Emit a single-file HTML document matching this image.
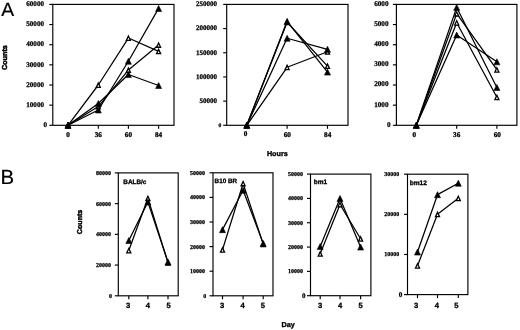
<!DOCTYPE html>
<html><head><meta charset="utf-8"><title>Figure</title>
<style>
html,body{margin:0;padding:0;background:#fff;}
body{width:520px;height:330px;overflow:hidden;font-family:"Liberation Sans",sans-serif;}
svg{display:block;filter:blur(0.3px);text-rendering:geometricPrecision;}
</style></head><body>
<svg width="520" height="330" viewBox="0 0 520 330">
<rect x="0" y="0" width="520" height="330" fill="#fff"/>
<rect x="52.8" y="4.4" width="121.2" height="120.89999999999999" fill="none" stroke="#000" stroke-width="1.15"/>
<line x1="49.3" y1="125.30" x2="52.8" y2="125.30" stroke="#000" stroke-width="1.15"/>
<text x="47.00" y="127.09" font-family="Liberation Serif" font-weight="bold" font-size="7.1" text-anchor="end" fill="#000" stroke="#000" stroke-width="0.25">0</text>
<line x1="49.3" y1="105.15" x2="52.8" y2="105.15" stroke="#000" stroke-width="1.15"/>
<text x="44.00" y="106.94" font-family="Liberation Serif" font-weight="bold" font-size="7.1" text-anchor="end" fill="#000" stroke="#000" stroke-width="0.25">10000</text>
<line x1="49.3" y1="85.00" x2="52.8" y2="85.00" stroke="#000" stroke-width="1.15"/>
<text x="44.00" y="86.79" font-family="Liberation Serif" font-weight="bold" font-size="7.1" text-anchor="end" fill="#000" stroke="#000" stroke-width="0.25">20000</text>
<line x1="49.3" y1="64.85" x2="52.8" y2="64.85" stroke="#000" stroke-width="1.15"/>
<text x="44.00" y="66.64" font-family="Liberation Serif" font-weight="bold" font-size="7.1" text-anchor="end" fill="#000" stroke="#000" stroke-width="0.25">30000</text>
<line x1="49.3" y1="44.70" x2="52.8" y2="44.70" stroke="#000" stroke-width="1.15"/>
<text x="44.00" y="46.49" font-family="Liberation Serif" font-weight="bold" font-size="7.1" text-anchor="end" fill="#000" stroke="#000" stroke-width="0.25">40000</text>
<line x1="49.3" y1="24.55" x2="52.8" y2="24.55" stroke="#000" stroke-width="1.15"/>
<text x="44.00" y="26.34" font-family="Liberation Serif" font-weight="bold" font-size="7.1" text-anchor="end" fill="#000" stroke="#000" stroke-width="0.25">50000</text>
<line x1="49.3" y1="4.40" x2="52.8" y2="4.40" stroke="#000" stroke-width="1.15"/>
<text x="44.00" y="6.19" font-family="Liberation Serif" font-weight="bold" font-size="7.1" text-anchor="end" fill="#000" stroke="#000" stroke-width="0.25">60000</text>
<line x1="68.0" y1="125.3" x2="68.0" y2="128.8" stroke="#000" stroke-width="1.15"/>
<text x="68.00" y="136.90" font-family="Liberation Serif" font-weight="bold" font-size="7.2" text-anchor="middle" fill="#000" stroke="#000" stroke-width="0.3">0</text>
<line x1="98.3" y1="125.3" x2="98.3" y2="128.8" stroke="#000" stroke-width="1.15"/>
<text x="98.30" y="136.90" font-family="Liberation Serif" font-weight="bold" font-size="7.2" text-anchor="middle" fill="#000" stroke="#000" stroke-width="0.3">36</text>
<line x1="128.4" y1="125.3" x2="128.4" y2="128.8" stroke="#000" stroke-width="1.15"/>
<text x="128.40" y="136.50" font-family="Liberation Serif" font-weight="bold" font-size="7.2" text-anchor="middle" fill="#000" stroke="#000" stroke-width="0.3">60</text>
<line x1="158.6" y1="125.3" x2="158.6" y2="128.8" stroke="#000" stroke-width="1.15"/>
<text x="158.60" y="136.50" font-family="Liberation Serif" font-weight="bold" font-size="7.2" text-anchor="middle" fill="#000" stroke="#000" stroke-width="0.3">84</text>
<polyline points="68.00,125.30 98.30,85.00 128.40,38.05 158.60,51.35" fill="none" stroke="#000" stroke-width="1.25" stroke-linejoin="round"/>
<polyline points="68.00,125.30 98.30,106.56 128.40,70.09 158.60,44.90" fill="none" stroke="#000" stroke-width="1.25" stroke-linejoin="round"/>
<polyline points="68.00,125.30 98.30,109.99 128.40,61.22 158.60,8.43" fill="none" stroke="#000" stroke-width="1.25" stroke-linejoin="round"/>
<polyline points="68.00,125.30 98.30,103.54 128.40,74.52 158.60,85.50" fill="none" stroke="#000" stroke-width="1.25" stroke-linejoin="round"/>
<polygon points="68.00,123.34 65.97,127.65 70.03,127.65" fill="#fff" stroke="#000" stroke-width="1.3" stroke-linejoin="miter"/>
<polygon points="98.30,83.04 96.27,87.35 100.33,87.35" fill="#fff" stroke="#000" stroke-width="1.3" stroke-linejoin="miter"/>
<polygon points="128.40,36.09 126.38,40.40 130.43,40.40" fill="#fff" stroke="#000" stroke-width="1.3" stroke-linejoin="miter"/>
<polygon points="158.60,49.39 156.57,53.70 160.62,53.70" fill="#fff" stroke="#000" stroke-width="1.3" stroke-linejoin="miter"/>
<polygon points="68.00,123.34 65.97,127.65 70.03,127.65" fill="#fff" stroke="#000" stroke-width="1.3" stroke-linejoin="miter"/>
<polygon points="98.30,104.60 96.27,108.91 100.33,108.91" fill="#fff" stroke="#000" stroke-width="1.3" stroke-linejoin="miter"/>
<polygon points="128.40,68.13 126.38,72.44 130.43,72.44" fill="#fff" stroke="#000" stroke-width="1.3" stroke-linejoin="miter"/>
<polygon points="158.60,42.94 156.57,47.25 160.62,47.25" fill="#fff" stroke="#000" stroke-width="1.3" stroke-linejoin="miter"/>
<polygon points="68.00,122.30 65.00,128.30 71.00,128.30" fill="#000" stroke="#000" stroke-width="0.6" stroke-linejoin="miter"/>
<polygon points="98.30,106.99 95.30,112.99 101.30,112.99" fill="#000" stroke="#000" stroke-width="0.6" stroke-linejoin="miter"/>
<polygon points="128.40,58.22 125.40,64.22 131.40,64.22" fill="#000" stroke="#000" stroke-width="0.6" stroke-linejoin="miter"/>
<polygon points="158.60,5.43 155.60,11.43 161.60,11.43" fill="#000" stroke="#000" stroke-width="0.6" stroke-linejoin="miter"/>
<polygon points="68.00,122.30 65.00,128.30 71.00,128.30" fill="#000" stroke="#000" stroke-width="0.6" stroke-linejoin="miter"/>
<polygon points="98.30,100.54 95.30,106.54 101.30,106.54" fill="#000" stroke="#000" stroke-width="0.6" stroke-linejoin="miter"/>
<polygon points="128.40,71.52 125.40,77.52 131.40,77.52" fill="#000" stroke="#000" stroke-width="0.6" stroke-linejoin="miter"/>
<polygon points="158.60,82.50 155.60,88.50 161.60,88.50" fill="#000" stroke="#000" stroke-width="0.6" stroke-linejoin="miter"/>
<rect x="226.7" y="4.4" width="121.30000000000001" height="120.89999999999999" fill="none" stroke="#000" stroke-width="1.15"/>
<line x1="223.2" y1="125.30" x2="226.7" y2="125.30" stroke="#000" stroke-width="1.15"/>
<text x="221.40" y="126.70" font-family="Liberation Serif" font-weight="bold" font-size="5.6" text-anchor="end" fill="#000" stroke="#000" stroke-width="0.25">0</text>
<line x1="223.2" y1="101.12" x2="226.7" y2="101.12" stroke="#000" stroke-width="1.15"/>
<text x="217.00" y="102.98" font-family="Liberation Serif" font-weight="bold" font-size="7.0" text-anchor="end" fill="#000" stroke="#000" stroke-width="0.25">50000</text>
<line x1="223.2" y1="76.94" x2="226.7" y2="76.94" stroke="#000" stroke-width="1.15"/>
<text x="217.00" y="78.80" font-family="Liberation Serif" font-weight="bold" font-size="7.0" text-anchor="end" fill="#000" stroke="#000" stroke-width="0.25">100000</text>
<line x1="223.2" y1="52.76" x2="226.7" y2="52.76" stroke="#000" stroke-width="1.15"/>
<text x="217.00" y="54.62" font-family="Liberation Serif" font-weight="bold" font-size="7.0" text-anchor="end" fill="#000" stroke="#000" stroke-width="0.25">150000</text>
<line x1="223.2" y1="28.58" x2="226.7" y2="28.58" stroke="#000" stroke-width="1.15"/>
<text x="217.00" y="30.44" font-family="Liberation Serif" font-weight="bold" font-size="7.0" text-anchor="end" fill="#000" stroke="#000" stroke-width="0.25">200000</text>
<line x1="223.2" y1="4.40" x2="226.7" y2="4.40" stroke="#000" stroke-width="1.15"/>
<text x="217.00" y="6.26" font-family="Liberation Serif" font-weight="bold" font-size="7.0" text-anchor="end" fill="#000" stroke="#000" stroke-width="0.25">250000</text>
<line x1="246.8" y1="125.3" x2="246.8" y2="128.8" stroke="#000" stroke-width="1.15"/>
<text x="245.50" y="135.50" font-family="Liberation Serif" font-weight="bold" font-size="7.2" text-anchor="middle" fill="#000" stroke="#000" stroke-width="0.3">0</text>
<line x1="287.1" y1="125.3" x2="287.1" y2="128.8" stroke="#000" stroke-width="1.15"/>
<text x="287.30" y="136.50" font-family="Liberation Serif" font-weight="bold" font-size="7.2" text-anchor="middle" fill="#000" stroke="#000" stroke-width="0.3">60</text>
<line x1="327.5" y1="125.3" x2="327.5" y2="128.8" stroke="#000" stroke-width="1.15"/>
<text x="327.70" y="136.50" font-family="Liberation Serif" font-weight="bold" font-size="7.2" text-anchor="middle" fill="#000" stroke="#000" stroke-width="0.3">84</text>
<polyline points="246.80,125.30 287.10,22.29 327.50,66.06" fill="none" stroke="#000" stroke-width="1.25" stroke-linejoin="round"/>
<polyline points="246.80,125.30 287.10,67.27 327.50,51.79" fill="none" stroke="#000" stroke-width="1.25" stroke-linejoin="round"/>
<polyline points="246.80,125.30 287.10,21.33 327.50,72.10" fill="none" stroke="#000" stroke-width="1.25" stroke-linejoin="round"/>
<polyline points="246.80,125.30 287.10,38.25 327.50,49.37" fill="none" stroke="#000" stroke-width="1.25" stroke-linejoin="round"/>
<polygon points="246.80,123.34 244.78,127.65 248.83,127.65" fill="#fff" stroke="#000" stroke-width="1.3" stroke-linejoin="miter"/>
<polygon points="287.10,20.33 285.08,24.64 289.12,24.64" fill="#fff" stroke="#000" stroke-width="1.3" stroke-linejoin="miter"/>
<polygon points="327.50,64.10 325.48,68.41 329.52,68.41" fill="#fff" stroke="#000" stroke-width="1.3" stroke-linejoin="miter"/>
<polygon points="246.80,123.34 244.78,127.65 248.83,127.65" fill="#fff" stroke="#000" stroke-width="1.3" stroke-linejoin="miter"/>
<polygon points="287.10,65.31 285.08,69.62 289.12,69.62" fill="#fff" stroke="#000" stroke-width="1.3" stroke-linejoin="miter"/>
<polygon points="327.50,49.83 325.48,54.14 329.52,54.14" fill="#fff" stroke="#000" stroke-width="1.3" stroke-linejoin="miter"/>
<polygon points="246.80,122.30 243.80,128.30 249.80,128.30" fill="#000" stroke="#000" stroke-width="0.6" stroke-linejoin="miter"/>
<polygon points="287.10,18.33 284.10,24.33 290.10,24.33" fill="#000" stroke="#000" stroke-width="0.6" stroke-linejoin="miter"/>
<polygon points="327.50,69.10 324.50,75.10 330.50,75.10" fill="#000" stroke="#000" stroke-width="0.6" stroke-linejoin="miter"/>
<polygon points="246.80,122.30 243.80,128.30 249.80,128.30" fill="#000" stroke="#000" stroke-width="0.6" stroke-linejoin="miter"/>
<polygon points="287.10,35.25 284.10,41.25 290.10,41.25" fill="#000" stroke="#000" stroke-width="0.6" stroke-linejoin="miter"/>
<polygon points="327.50,46.37 324.50,52.37 330.50,52.37" fill="#000" stroke="#000" stroke-width="0.6" stroke-linejoin="miter"/>
<rect x="396.4" y="4.4" width="120.5" height="120.89999999999999" fill="none" stroke="#000" stroke-width="1.15"/>
<line x1="392.9" y1="125.30" x2="396.4" y2="125.30" stroke="#000" stroke-width="1.15"/>
<text x="390.50" y="126.78" font-family="Liberation Serif" font-weight="bold" font-size="7.2" text-anchor="end" fill="#000" stroke="#000" stroke-width="0.25">0</text>
<line x1="392.9" y1="105.15" x2="396.4" y2="105.15" stroke="#000" stroke-width="1.15"/>
<text x="388.50" y="106.63" font-family="Liberation Serif" font-weight="bold" font-size="7.2" text-anchor="end" fill="#000" stroke="#000" stroke-width="0.25">1000</text>
<line x1="392.9" y1="85.00" x2="396.4" y2="85.00" stroke="#000" stroke-width="1.15"/>
<text x="388.50" y="86.48" font-family="Liberation Serif" font-weight="bold" font-size="7.2" text-anchor="end" fill="#000" stroke="#000" stroke-width="0.25">2000</text>
<line x1="392.9" y1="64.85" x2="396.4" y2="64.85" stroke="#000" stroke-width="1.15"/>
<text x="388.50" y="66.33" font-family="Liberation Serif" font-weight="bold" font-size="7.2" text-anchor="end" fill="#000" stroke="#000" stroke-width="0.25">3000</text>
<line x1="392.9" y1="44.70" x2="396.4" y2="44.70" stroke="#000" stroke-width="1.15"/>
<text x="388.50" y="46.18" font-family="Liberation Serif" font-weight="bold" font-size="7.2" text-anchor="end" fill="#000" stroke="#000" stroke-width="0.25">4000</text>
<line x1="392.9" y1="24.55" x2="396.4" y2="24.55" stroke="#000" stroke-width="1.15"/>
<text x="388.50" y="26.03" font-family="Liberation Serif" font-weight="bold" font-size="7.2" text-anchor="end" fill="#000" stroke="#000" stroke-width="0.25">5000</text>
<line x1="392.9" y1="4.40" x2="396.4" y2="4.40" stroke="#000" stroke-width="1.15"/>
<text x="388.50" y="5.88" font-family="Liberation Serif" font-weight="bold" font-size="7.2" text-anchor="end" fill="#000" stroke="#000" stroke-width="0.25">6000</text>
<line x1="416.3" y1="125.3" x2="416.3" y2="128.8" stroke="#000" stroke-width="1.15"/>
<text x="414.40" y="136.50" font-family="Liberation Serif" font-weight="bold" font-size="7.2" text-anchor="middle" fill="#000" stroke="#000" stroke-width="0.3">0</text>
<line x1="456.7" y1="125.3" x2="456.7" y2="128.8" stroke="#000" stroke-width="1.15"/>
<text x="456.70" y="136.50" font-family="Liberation Serif" font-weight="bold" font-size="7.2" text-anchor="middle" fill="#000" stroke="#000" stroke-width="0.3">36</text>
<line x1="496.9" y1="125.3" x2="496.9" y2="128.8" stroke="#000" stroke-width="1.15"/>
<text x="497.30" y="136.50" font-family="Liberation Serif" font-weight="bold" font-size="7.2" text-anchor="middle" fill="#000" stroke="#000" stroke-width="0.3">60</text>
<polyline points="416.30,125.30 456.70,13.67 496.90,69.69" fill="none" stroke="#000" stroke-width="1.25" stroke-linejoin="round"/>
<polyline points="416.30,125.30 456.70,22.74 496.90,97.29" fill="none" stroke="#000" stroke-width="1.25" stroke-linejoin="round"/>
<polyline points="416.30,125.30 456.70,7.42 496.90,87.42" fill="none" stroke="#000" stroke-width="1.25" stroke-linejoin="round"/>
<polyline points="416.30,125.30 456.70,35.03 496.90,61.83" fill="none" stroke="#000" stroke-width="1.25" stroke-linejoin="round"/>
<polygon points="416.30,123.34 414.28,127.65 418.32,127.65" fill="#fff" stroke="#000" stroke-width="1.3" stroke-linejoin="miter"/>
<polygon points="456.70,11.71 454.68,16.02 458.72,16.02" fill="#fff" stroke="#000" stroke-width="1.3" stroke-linejoin="miter"/>
<polygon points="496.90,67.73 494.88,72.04 498.92,72.04" fill="#fff" stroke="#000" stroke-width="1.3" stroke-linejoin="miter"/>
<polygon points="416.30,123.34 414.28,127.65 418.32,127.65" fill="#fff" stroke="#000" stroke-width="1.3" stroke-linejoin="miter"/>
<polygon points="456.70,20.78 454.68,25.09 458.72,25.09" fill="#fff" stroke="#000" stroke-width="1.3" stroke-linejoin="miter"/>
<polygon points="496.90,95.33 494.88,99.64 498.92,99.64" fill="#fff" stroke="#000" stroke-width="1.3" stroke-linejoin="miter"/>
<polygon points="416.30,122.30 413.30,128.30 419.30,128.30" fill="#000" stroke="#000" stroke-width="0.6" stroke-linejoin="miter"/>
<polygon points="456.70,4.42 453.70,10.42 459.70,10.42" fill="#000" stroke="#000" stroke-width="0.6" stroke-linejoin="miter"/>
<polygon points="496.90,84.42 493.90,90.42 499.90,90.42" fill="#000" stroke="#000" stroke-width="0.6" stroke-linejoin="miter"/>
<polygon points="416.30,122.30 413.30,128.30 419.30,128.30" fill="#000" stroke="#000" stroke-width="0.6" stroke-linejoin="miter"/>
<polygon points="456.70,32.03 453.70,38.03 459.70,38.03" fill="#000" stroke="#000" stroke-width="0.6" stroke-linejoin="miter"/>
<polygon points="496.90,58.83 493.90,64.83 499.90,64.83" fill="#000" stroke="#000" stroke-width="0.6" stroke-linejoin="miter"/>
<rect x="118.3" y="172.9" width="59.89999999999999" height="122.9" fill="none" stroke="#000" stroke-width="1.15"/>
<line x1="114.8" y1="295.80" x2="118.3" y2="295.80" stroke="#000" stroke-width="1.15"/>
<text x="112.10" y="297.78" font-family="Liberation Serif" font-weight="bold" font-size="6" text-anchor="end" fill="#000" stroke="#000" stroke-width="0.25">0</text>
<line x1="114.8" y1="265.07" x2="118.3" y2="265.07" stroke="#000" stroke-width="1.15"/>
<text x="110.90" y="267.06" font-family="Liberation Serif" font-weight="bold" font-size="6" text-anchor="end" fill="#000" stroke="#000" stroke-width="0.25">20000</text>
<line x1="114.8" y1="234.35" x2="118.3" y2="234.35" stroke="#000" stroke-width="1.15"/>
<text x="110.90" y="236.33" font-family="Liberation Serif" font-weight="bold" font-size="6" text-anchor="end" fill="#000" stroke="#000" stroke-width="0.25">40000</text>
<line x1="114.8" y1="203.62" x2="118.3" y2="203.62" stroke="#000" stroke-width="1.15"/>
<text x="110.90" y="205.60" font-family="Liberation Serif" font-weight="bold" font-size="6" text-anchor="end" fill="#000" stroke="#000" stroke-width="0.25">60000</text>
<line x1="114.8" y1="172.90" x2="118.3" y2="172.90" stroke="#000" stroke-width="1.15"/>
<text x="110.90" y="174.88" font-family="Liberation Serif" font-weight="bold" font-size="6" text-anchor="end" fill="#000" stroke="#000" stroke-width="0.25">80000</text>
<line x1="128.8" y1="295.8" x2="128.8" y2="299.3" stroke="#000" stroke-width="1.15"/>
<text x="128.00" y="308.00" font-family="Liberation Sans" font-weight="bold" font-size="7.6" text-anchor="middle" fill="#000" stroke="#000" stroke-width="0.3">3</text>
<line x1="147.9" y1="295.8" x2="147.9" y2="299.3" stroke="#000" stroke-width="1.15"/>
<text x="147.90" y="308.00" font-family="Liberation Sans" font-weight="bold" font-size="7.6" text-anchor="middle" fill="#000" stroke="#000" stroke-width="0.3">4</text>
<line x1="168.0" y1="295.8" x2="168.0" y2="299.3" stroke="#000" stroke-width="1.15"/>
<text x="168.50" y="308.00" font-family="Liberation Sans" font-weight="bold" font-size="7.6" text-anchor="middle" fill="#000" stroke="#000" stroke-width="0.3">5</text>
<polyline points="128.80,250.48 147.90,198.25 168.00,262.77" fill="none" stroke="#000" stroke-width="1.25" stroke-linejoin="round"/>
<polyline points="128.80,240.50 147.90,202.09 168.00,262.00" fill="none" stroke="#000" stroke-width="1.25" stroke-linejoin="round"/>
<polygon points="128.80,248.52 126.78,252.83 130.83,252.83" fill="#fff" stroke="#000" stroke-width="1.3" stroke-linejoin="miter"/>
<polygon points="147.90,196.29 145.88,200.60 149.93,200.60" fill="#fff" stroke="#000" stroke-width="1.3" stroke-linejoin="miter"/>
<polygon points="168.00,260.81 165.97,265.12 170.03,265.12" fill="#fff" stroke="#000" stroke-width="1.3" stroke-linejoin="miter"/>
<polygon points="128.80,237.50 125.80,243.50 131.80,243.50" fill="#000" stroke="#000" stroke-width="0.6" stroke-linejoin="miter"/>
<polygon points="147.90,199.09 144.90,205.09 150.90,205.09" fill="#000" stroke="#000" stroke-width="0.6" stroke-linejoin="miter"/>
<polygon points="168.00,259.00 165.00,265.00 171.00,265.00" fill="#000" stroke="#000" stroke-width="0.6" stroke-linejoin="miter"/>
<text x="123.3" y="183.8" font-family="Liberation Sans" font-weight="bold" font-size="6.4" fill="#000" stroke="#000" stroke-width="0.3">BALB/c</text>
<rect x="213.0" y="172.8" width="60.0" height="123.0" fill="none" stroke="#000" stroke-width="1.15"/>
<line x1="209.5" y1="295.80" x2="213.0" y2="295.80" stroke="#000" stroke-width="1.15"/>
<text x="206.20" y="297.78" font-family="Liberation Serif" font-weight="bold" font-size="6" text-anchor="end" fill="#000" stroke="#000" stroke-width="0.25">0</text>
<line x1="209.5" y1="271.20" x2="213.0" y2="271.20" stroke="#000" stroke-width="1.15"/>
<text x="205.00" y="273.18" font-family="Liberation Serif" font-weight="bold" font-size="6" text-anchor="end" fill="#000" stroke="#000" stroke-width="0.25">10000</text>
<line x1="209.5" y1="246.60" x2="213.0" y2="246.60" stroke="#000" stroke-width="1.15"/>
<text x="205.00" y="248.58" font-family="Liberation Serif" font-weight="bold" font-size="6" text-anchor="end" fill="#000" stroke="#000" stroke-width="0.25">20000</text>
<line x1="209.5" y1="222.00" x2="213.0" y2="222.00" stroke="#000" stroke-width="1.15"/>
<text x="205.00" y="223.98" font-family="Liberation Serif" font-weight="bold" font-size="6" text-anchor="end" fill="#000" stroke="#000" stroke-width="0.25">30000</text>
<line x1="209.5" y1="197.40" x2="213.0" y2="197.40" stroke="#000" stroke-width="1.15"/>
<text x="205.00" y="199.38" font-family="Liberation Serif" font-weight="bold" font-size="6" text-anchor="end" fill="#000" stroke="#000" stroke-width="0.25">40000</text>
<line x1="209.5" y1="172.80" x2="213.0" y2="172.80" stroke="#000" stroke-width="1.15"/>
<text x="205.00" y="174.78" font-family="Liberation Serif" font-weight="bold" font-size="6" text-anchor="end" fill="#000" stroke="#000" stroke-width="0.25">50000</text>
<line x1="222.5" y1="295.8" x2="222.5" y2="299.3" stroke="#000" stroke-width="1.15"/>
<text x="222.10" y="308.00" font-family="Liberation Sans" font-weight="bold" font-size="7.6" text-anchor="middle" fill="#000" stroke="#000" stroke-width="0.3">3</text>
<line x1="243.1" y1="295.8" x2="243.1" y2="299.3" stroke="#000" stroke-width="1.15"/>
<text x="242.70" y="308.00" font-family="Liberation Sans" font-weight="bold" font-size="7.6" text-anchor="middle" fill="#000" stroke="#000" stroke-width="0.3">4</text>
<line x1="263.2" y1="295.8" x2="263.2" y2="299.3" stroke="#000" stroke-width="1.15"/>
<text x="262.80" y="308.00" font-family="Liberation Sans" font-weight="bold" font-size="7.6" text-anchor="middle" fill="#000" stroke="#000" stroke-width="0.3">5</text>
<polyline points="222.50,249.80 243.10,183.38 263.20,244.14" fill="none" stroke="#000" stroke-width="1.25" stroke-linejoin="round"/>
<polyline points="222.50,229.63 243.10,190.27 263.20,243.40" fill="none" stroke="#000" stroke-width="1.25" stroke-linejoin="round"/>
<polygon points="222.50,247.84 220.47,252.15 224.53,252.15" fill="#fff" stroke="#000" stroke-width="1.3" stroke-linejoin="miter"/>
<polygon points="243.10,181.42 241.07,185.73 245.12,185.73" fill="#fff" stroke="#000" stroke-width="1.3" stroke-linejoin="miter"/>
<polygon points="263.20,242.18 261.18,246.49 265.22,246.49" fill="#fff" stroke="#000" stroke-width="1.3" stroke-linejoin="miter"/>
<polygon points="222.50,226.63 219.50,232.63 225.50,232.63" fill="#000" stroke="#000" stroke-width="0.6" stroke-linejoin="miter"/>
<polygon points="243.10,187.27 240.10,193.27 246.10,193.27" fill="#000" stroke="#000" stroke-width="0.6" stroke-linejoin="miter"/>
<polygon points="263.20,240.40 260.20,246.40 266.20,246.40" fill="#000" stroke="#000" stroke-width="0.6" stroke-linejoin="miter"/>
<text x="214.6" y="183.3" font-family="Liberation Sans" font-weight="bold" font-size="6.3" fill="#000" stroke="#000" stroke-width="0.3">B10 BR</text>
<rect x="310.5" y="174.1" width="60.39999999999998" height="121.6" fill="none" stroke="#000" stroke-width="1.15"/>
<line x1="307.0" y1="295.70" x2="310.5" y2="295.70" stroke="#000" stroke-width="1.15"/>
<text x="305.50" y="298.01" font-family="Liberation Serif" font-weight="bold" font-size="7.0" text-anchor="end" fill="#000" stroke="#000" stroke-width="0.25">0</text>
<line x1="307.0" y1="271.38" x2="310.5" y2="271.38" stroke="#000" stroke-width="1.15"/>
<text x="302.90" y="273.36" font-family="Liberation Serif" font-weight="bold" font-size="6" text-anchor="end" fill="#000" stroke="#000" stroke-width="0.25">10000</text>
<line x1="307.0" y1="247.06" x2="310.5" y2="247.06" stroke="#000" stroke-width="1.15"/>
<text x="302.90" y="249.04" font-family="Liberation Serif" font-weight="bold" font-size="6" text-anchor="end" fill="#000" stroke="#000" stroke-width="0.25">20000</text>
<line x1="307.0" y1="222.74" x2="310.5" y2="222.74" stroke="#000" stroke-width="1.15"/>
<text x="302.90" y="224.72" font-family="Liberation Serif" font-weight="bold" font-size="6" text-anchor="end" fill="#000" stroke="#000" stroke-width="0.25">30000</text>
<line x1="307.0" y1="198.42" x2="310.5" y2="198.42" stroke="#000" stroke-width="1.15"/>
<text x="302.90" y="200.40" font-family="Liberation Serif" font-weight="bold" font-size="6" text-anchor="end" fill="#000" stroke="#000" stroke-width="0.25">40000</text>
<line x1="307.0" y1="174.10" x2="310.5" y2="174.10" stroke="#000" stroke-width="1.15"/>
<text x="302.90" y="176.08" font-family="Liberation Serif" font-weight="bold" font-size="6" text-anchor="end" fill="#000" stroke="#000" stroke-width="0.25">50000</text>
<line x1="320.2" y1="295.7" x2="320.2" y2="299.2" stroke="#000" stroke-width="1.15"/>
<text x="320.10" y="308.00" font-family="Liberation Sans" font-weight="bold" font-size="7.6" text-anchor="middle" fill="#000" stroke="#000" stroke-width="0.3">3</text>
<line x1="340.0" y1="295.7" x2="340.0" y2="299.2" stroke="#000" stroke-width="1.15"/>
<text x="340.20" y="308.00" font-family="Liberation Sans" font-weight="bold" font-size="7.6" text-anchor="middle" fill="#000" stroke="#000" stroke-width="0.3">4</text>
<line x1="360.6" y1="295.7" x2="360.6" y2="299.2" stroke="#000" stroke-width="1.15"/>
<text x="360.60" y="308.00" font-family="Liberation Sans" font-weight="bold" font-size="7.6" text-anchor="middle" fill="#000" stroke="#000" stroke-width="0.3">5</text>
<polyline points="320.20,253.75 340.00,204.50 360.60,238.79" fill="none" stroke="#000" stroke-width="1.25" stroke-linejoin="round"/>
<polyline points="320.20,246.45 340.00,198.42 360.60,247.06" fill="none" stroke="#000" stroke-width="1.25" stroke-linejoin="round"/>
<polygon points="320.20,251.79 318.18,256.10 322.22,256.10" fill="#fff" stroke="#000" stroke-width="1.3" stroke-linejoin="miter"/>
<polygon points="340.00,202.54 337.98,206.85 342.02,206.85" fill="#fff" stroke="#000" stroke-width="1.3" stroke-linejoin="miter"/>
<polygon points="360.60,236.83 358.58,241.14 362.62,241.14" fill="#fff" stroke="#000" stroke-width="1.3" stroke-linejoin="miter"/>
<polygon points="320.20,243.45 317.20,249.45 323.20,249.45" fill="#000" stroke="#000" stroke-width="0.6" stroke-linejoin="miter"/>
<polygon points="340.00,195.42 337.00,201.42 343.00,201.42" fill="#000" stroke="#000" stroke-width="0.6" stroke-linejoin="miter"/>
<polygon points="360.60,244.06 357.60,250.06 363.60,250.06" fill="#000" stroke="#000" stroke-width="0.6" stroke-linejoin="miter"/>
<text x="313.8" y="183.9" font-family="Liberation Sans" font-weight="bold" font-size="6.5" fill="#000" stroke="#000" stroke-width="0.3">bm1</text>
<rect x="407.5" y="174.2" width="60.39999999999998" height="120.40000000000003" fill="none" stroke="#000" stroke-width="1.15"/>
<line x1="404.0" y1="294.60" x2="407.5" y2="294.60" stroke="#000" stroke-width="1.15"/>
<text x="402.40" y="296.98" font-family="Liberation Serif" font-weight="bold" font-size="7.2" text-anchor="end" fill="#000" stroke="#000" stroke-width="0.25">0</text>
<line x1="404.0" y1="254.47" x2="407.5" y2="254.47" stroke="#000" stroke-width="1.15"/>
<text x="399.30" y="256.45" font-family="Liberation Serif" font-weight="bold" font-size="6" text-anchor="end" fill="#000" stroke="#000" stroke-width="0.25">10000</text>
<line x1="404.0" y1="214.33" x2="407.5" y2="214.33" stroke="#000" stroke-width="1.15"/>
<text x="399.30" y="216.31" font-family="Liberation Serif" font-weight="bold" font-size="6" text-anchor="end" fill="#000" stroke="#000" stroke-width="0.25">20000</text>
<line x1="404.0" y1="174.20" x2="407.5" y2="174.20" stroke="#000" stroke-width="1.15"/>
<text x="399.30" y="176.18" font-family="Liberation Serif" font-weight="bold" font-size="6" text-anchor="end" fill="#000" stroke="#000" stroke-width="0.25">30000</text>
<line x1="417.5" y1="294.6" x2="417.5" y2="298.1" stroke="#000" stroke-width="1.15"/>
<text x="416.00" y="307.90" font-family="Liberation Sans" font-weight="bold" font-size="7.6" text-anchor="middle" fill="#000" stroke="#000" stroke-width="0.3">3</text>
<line x1="437.5" y1="294.6" x2="437.5" y2="298.1" stroke="#000" stroke-width="1.15"/>
<text x="436.90" y="307.90" font-family="Liberation Sans" font-weight="bold" font-size="7.6" text-anchor="middle" fill="#000" stroke="#000" stroke-width="0.3">4</text>
<line x1="458.3" y1="294.6" x2="458.3" y2="298.1" stroke="#000" stroke-width="1.15"/>
<text x="456.40" y="307.90" font-family="Liberation Sans" font-weight="bold" font-size="7.6" text-anchor="middle" fill="#000" stroke="#000" stroke-width="0.3">5</text>
<polyline points="417.50,265.70 437.50,214.33 458.30,198.28" fill="none" stroke="#000" stroke-width="1.25" stroke-linejoin="round"/>
<polyline points="417.50,252.06 437.50,194.67 458.30,183.23" fill="none" stroke="#000" stroke-width="1.25" stroke-linejoin="round"/>
<polygon points="417.50,263.74 415.48,268.05 419.52,268.05" fill="#fff" stroke="#000" stroke-width="1.3" stroke-linejoin="miter"/>
<polygon points="437.50,212.37 435.48,216.68 439.52,216.68" fill="#fff" stroke="#000" stroke-width="1.3" stroke-linejoin="miter"/>
<polygon points="458.30,196.32 456.28,200.63 460.32,200.63" fill="#fff" stroke="#000" stroke-width="1.3" stroke-linejoin="miter"/>
<polygon points="417.50,249.06 414.50,255.06 420.50,255.06" fill="#000" stroke="#000" stroke-width="0.6" stroke-linejoin="miter"/>
<polygon points="437.50,191.67 434.50,197.67 440.50,197.67" fill="#000" stroke="#000" stroke-width="0.6" stroke-linejoin="miter"/>
<polygon points="458.30,180.23 455.30,186.23 461.30,186.23" fill="#000" stroke="#000" stroke-width="0.6" stroke-linejoin="miter"/>
<text x="409.7" y="184.8" font-family="Liberation Sans" font-weight="bold" font-size="6.6" fill="#000" stroke="#000" stroke-width="0.3">bm12</text>
<text x="1.3" y="16.0" font-family="Liberation Sans" font-weight="normal" font-size="19.3" text-anchor="start" fill="#000" stroke="#000" stroke-width="0.2">A</text>
<text x="0.4" y="183.8" font-family="Liberation Sans" font-weight="normal" font-size="20.4" text-anchor="start" fill="#000" stroke="#000" stroke-width="0.2">B</text>
<text x="6.7" y="57.6" font-family="Liberation Sans" font-weight="bold" font-size="7.2" text-anchor="middle" fill="#000" stroke="#000" stroke-width="0.5" transform="rotate(-90 6.7 57.6)">Counts</text>
<text x="82.2" y="221.9" font-family="Liberation Sans" font-weight="bold" font-size="7.1" text-anchor="middle" fill="#000" stroke="#000" stroke-width="0.45" transform="rotate(-90 82.2 221.9)">Counts</text>
<text x="277.3" y="156.0" font-family="Liberation Sans" font-weight="bold" font-size="7.2" text-anchor="middle" fill="#000" stroke="#000" stroke-width="0.35">Hours</text>
<text x="288.1" y="327.0" font-family="Liberation Sans" font-weight="bold" font-size="7.2" text-anchor="middle" fill="#000" stroke="#000" stroke-width="0.35">Day</text>
</svg>
</body></html>
